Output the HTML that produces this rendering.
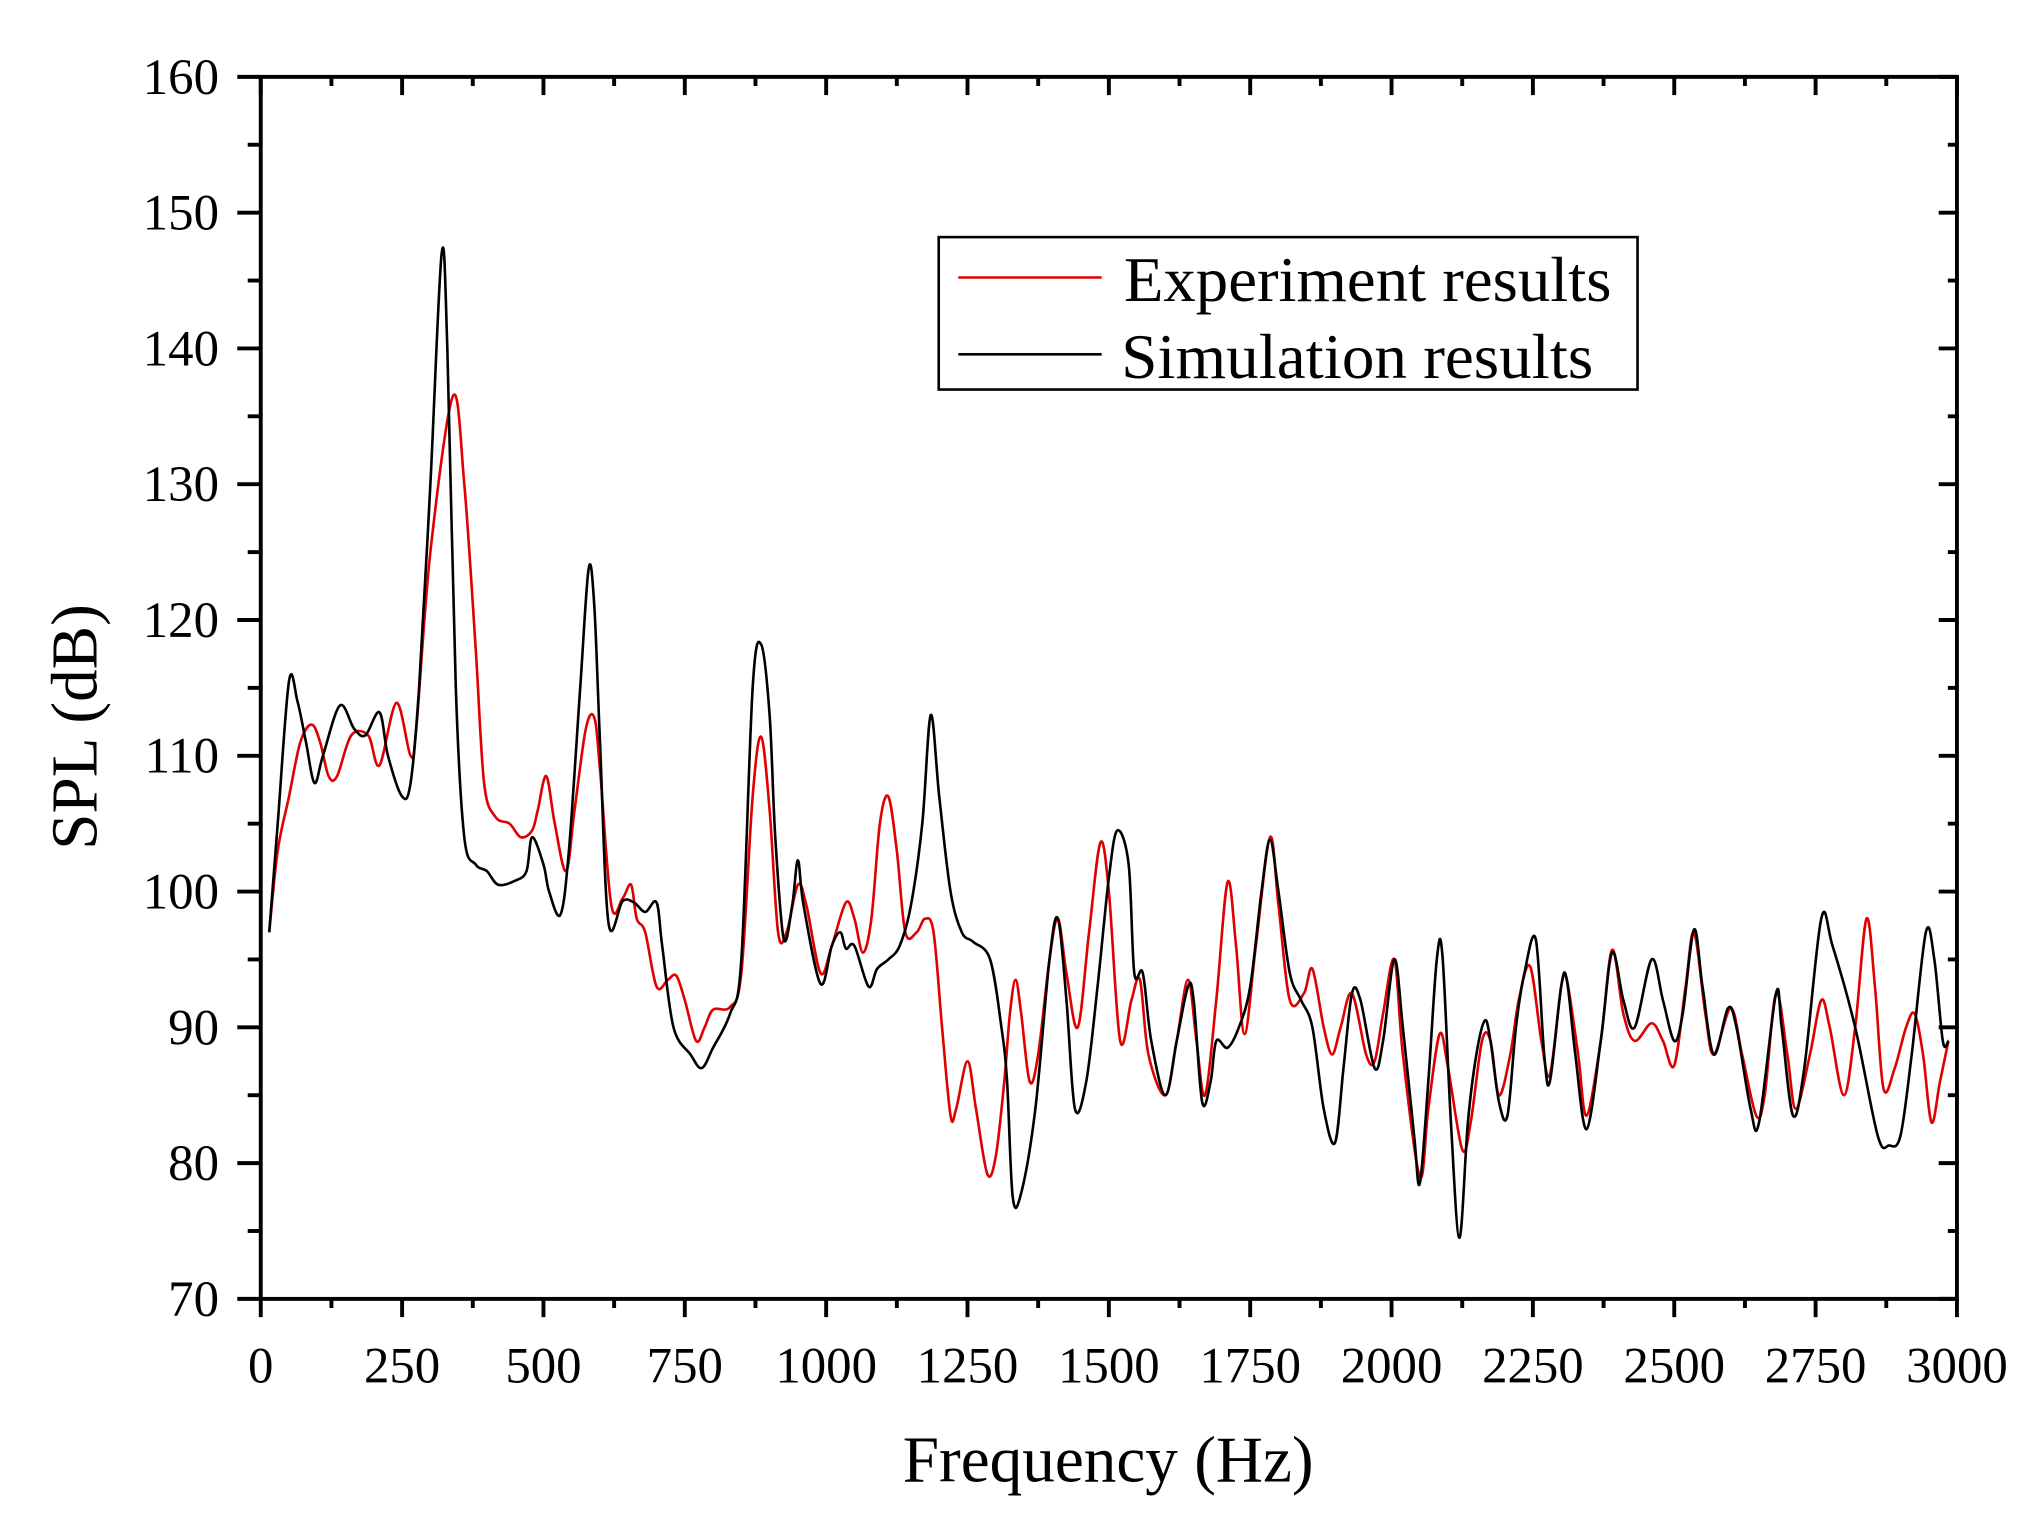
<!DOCTYPE html>
<html><head><meta charset="utf-8"><style>
html,body{margin:0;padding:0;background:#fff;}
svg{display:block;}
text{font-family:"Liberation Serif",serif;fill:#000;}
</style></head><body>
<svg id="s" width="2043" height="1536" viewBox="0 0 1567 1179" preserveAspectRatio="none" xmlns="http://www.w3.org/2000/svg">
<rect x="0" y="0" width="1567" height="1179" fill="#fff"/>
<g id="ticks" stroke="#000" stroke-width="3"></g>
<g id="labels" font-size="39"></g>
<path id="red" fill="none" stroke="#e00000" stroke-width="2"/>
<path id="blk" fill="none" stroke="#000" stroke-width="2"/>
<rect x="200" y="59" width="1301" height="938" fill="none" stroke="#000" stroke-width="3"/>
<rect x="720" y="182" width="536" height="117" fill="#fff" stroke="#000" stroke-width="2"/>
<line x1="735" y1="213" x2="845" y2="213" stroke="#e00000" stroke-width="2"/>
<line x1="735" y1="272" x2="845" y2="272" stroke="#000" stroke-width="2"/>
<text x="862" y="231" font-size="49" textLength="374" lengthAdjust="spacingAndGlyphs">Experiment results</text>
<text x="860" y="290" font-size="49" textLength="362" lengthAdjust="spacingAndGlyphs">Simulation results</text>
<text x="850" y="1137" font-size="50" text-anchor="middle">Frequency (Hz)</text>
<text transform="translate(74,558) rotate(-90)" font-size="50" text-anchor="middle">SPL (dB)</text>
</svg>
<script>
var X=function(f){return 200+f*1301/3000;},Y=function(d){return 997-(d-70)*938/90;};
var t=document.getElementById('ticks'),l=document.getElementById('labels'),h='',lh='';
for(var f=0;f<=3000;f+=125){var x=X(f),maj=f%250==0;
h+='<line x1="'+x+'" y1="997" x2="'+x+'" y2="'+(maj?1011:1004)+'"/>';
h+='<line x1="'+x+'" y1="59" x2="'+x+'" y2="'+(maj?73:66)+'"/>';
if(maj)lh+='<text x="'+x+'" y="1061" text-anchor="middle">'+f+'</text>';}
for(var d=70;d<=160;d+=5){var y=Y(d),maj=d%10==0;
h+='<line x1="'+(maj?182:190)+'" y1="'+y+'" x2="200" y2="'+y+'"/>';
h+='<line x1="'+(maj?1487:1494)+'" y1="'+y+'" x2="1501" y2="'+y+'"/>';
if(maj)lh+='<text x="168" y="'+(y+13)+'" text-anchor="end">'+d+'</text>';}
t.innerHTML=h;l.innerHTML=lh;
var B=[15,97,30,105,50,115.5,65,114,80,111,95,108,110,110,140,113.7,165,112,185,111.5,210,113.2,225,110,250,107,265,108,280,115,300,130,320,147,330,140,345,115,360,104,380,102,400,101.5,420,100.5,450,100.8,470,101.5,480,104,500,102,510,100,530,98.3,545,103,565,115,580,123.8,590,121,600,111,615,97.7,640,99.3,660,99.2,680,98.5,700,99.2,710,96,730,90,760,88,780,87,800,88.5,830,91,850,95,870,115,885,118.2,900,113,910,104,925,96.5,940,99,950,102.3,960,99,990,93.2,1010,96,1025,97,1035,95.8,1050,96,1075,93,1090,94.3,1110,95,1130,96,1150,99,1170,105,1185,113,1200,107,1220,100,1240,97,1260,96.3,1290,95,1310,90,1320,86,1330,77.5,1345,77.8,1370,84,1395,95,1410,98,1425,92,1440,84,1460,86,1480,93,1500,101,1515,104.5,1535,102,1545,94,1560,94,1575,89,1600,85,1620,89,1640,93,1650,92,1665,84.5,1680,86,1690,89,1710,88.5,1730,90,1750,93,1770,100,1785,103.8,1800,100,1820,94,1840,92,1860,90,1880,84,1900,81.5,1915,87,1930,92.5,1945,92,1970,87,1985,89,2005,95,2020,90,2040,82,2050,78.5,2065,86,2080,95,2090,95.3,2105,83,2120,74.5,2135,83,2150,88,2165,90.5,2175,89,2190,84.5,2205,83.5,2220,90,2235,94,2255,96.5,2270,88,2280,86,2300,93,2310,93.5,2325,88,2345,82.5,2370,89,2390,95.5,2410,92,2430,90,2460,95,2480,92,2500,89,2515,91,2535,97.2,2550,93,2570,88,2595,91.4,2610,90,2635,84,2650,83,2680,92.5,2690,90,2710,83.5,2730,87,2760,98,2780,96,2820,90,2860,82,2880,81.3,2900,82,2920,88,2945,97,2960,95,2975,89,2985,89];
var R=[15,97,30,103,50,107,70,111,90,112.3,105,111,120,108.5,135,108.5,160,111.5,190,111.5,210,109.3,240,113.9,265,110,275,112,300,125,340,136.5,360,130,380,118,395,108,415,105.5,440,105,460,104,480,104.5,490,106,505,108.5,520,105,540,101.5,555,106,575,112,590,112.8,600,109,620,99,640,99.5,655,100.5,665,98,680,97,700,93,720,93.5,735,93.8,750,92,770,89,785,90,800,91.3,830,91.5,850,94,870,107,885,111.4,900,106,915,97,930,97,950,100.5,965,99,990,94,1010,96,1035,99.2,1050,98,1065,95.5,1080,98,1095,105,1110,107,1125,103,1140,97,1160,97,1175,98,1190,97,1205,90,1220,83.5,1230,84,1250,87.5,1265,84,1285,79.2,1300,80.5,1315,86,1325,91,1335,93.5,1345,91,1360,86,1375,88,1395,95,1410,98,1425,94,1445,90,1465,97,1485,103.6,1500,100,1520,89,1540,92,1555,93.5,1570,88,1600,85,1620,89,1640,93.5,1655,89,1670,85,1690,92,1710,100.7,1725,96,1740,89.5,1760,96,1785,104,1800,99,1820,92,1845,92.5,1860,94.3,1880,90,1895,88,1910,90,1930,92.5,1955,88,1970,87.5,1985,91,2005,95,2020,88,2050,79,2065,84,2085,89.5,2100,87,2125,81,2140,83,2160,89,2175,89,2190,85,2210,88,2225,92,2245,94.5,2265,89,2280,86.5,2300,93,2310,93.5,2330,88,2345,83.5,2370,89,2390,95.7,2410,91,2430,89,2460,90.3,2480,89,2500,87.2,2520,93,2535,97,2555,91,2570,88,2600,91.4,2620,88,2645,83.5,2660,85,2680,92.5,2700,88,2715,84,2740,88,2760,92,2775,90,2800,85,2820,90,2840,98,2855,93,2870,85.5,2890,87,2910,90,2925,91,2940,88,2955,83,2970,86,2985,89];
function path(a){var p=[];for(var i=0;i<a.length;i+=2)p.push([X(a[i]),Y(a[i+1])]);
var d='M'+p[0][0]+','+p[0][1];
for(var i=0;i<p.length-1;i++){var p0=p[i-1]||p[i],p1=p[i],p2=p[i+1],p3=p[i+2]||p2;
d+=' C'+(p1[0]+(p2[0]-p0[0])/6)+','+(p1[1]+(p2[1]-p0[1])/6)+' '+(p2[0]-(p3[0]-p1[0])/6)+','+(p2[1]-(p3[1]-p1[1])/6)+' '+p2[0]+','+p2[1];}
return d;}
document.getElementById('red').setAttribute('d',path(R));
document.getElementById('blk').setAttribute('d',path(B));
</script>
</body></html>
